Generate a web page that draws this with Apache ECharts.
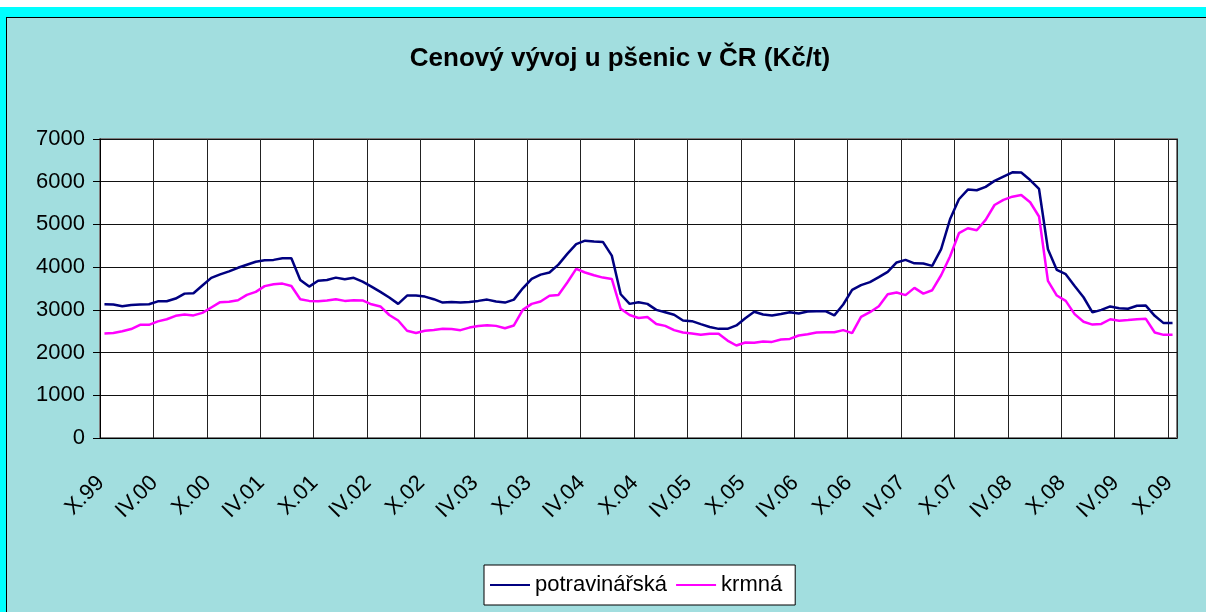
<!DOCTYPE html>
<html>
<head>
<meta charset="utf-8">
<title>Cenový vývoj u pšenic v ČR</title>
<script src="https://cdn.jsdelivr.net/npm/echarts/dist/echarts.min.js"></script>
<style>
  html, body { margin: 0; padding: 0; background: #fff; }
  .frame { position: absolute; left: 0; top: 0; width: 1206px; height: 612px; overflow: hidden; }
  .cyan { position: absolute; left: 0; top: 7px; width: 1206px; height: 605px; background: #00ffff; }
  .area { position: absolute; left: 6px; top: 17px; width: 1200px; height: 600px; background: #a2dedf;
          border-top: 1px solid #000; border-left: 1px solid #000; }
  #chart { position: absolute; left: 0; top: 0; width: 1206px; height: 612px; }
</style>
</head>
<body>
<div class="frame">
  <div class="cyan"></div>
  <div class="area"></div>
  <div id="chart"></div>
</div>
<script>
// měsíce X.99 – X.09
const categories = [
  'X.99', 'XI.99', 'XII.99',
  'I.00', 'II.00', 'III.00', 'IV.00', 'V.00', 'VI.00', 'VII.00', 'VIII.00', 'IX.00', 'X.00', 'XI.00', 'XII.00',
  'I.01', 'II.01', 'III.01', 'IV.01', 'V.01', 'VI.01', 'VII.01', 'VIII.01', 'IX.01', 'X.01', 'XI.01', 'XII.01',
  'I.02', 'II.02', 'III.02', 'IV.02', 'V.02', 'VI.02', 'VII.02', 'VIII.02', 'IX.02', 'X.02', 'XI.02', 'XII.02',
  'I.03', 'II.03', 'III.03', 'IV.03', 'V.03', 'VI.03', 'VII.03', 'VIII.03', 'IX.03', 'X.03', 'XI.03', 'XII.03',
  'I.04', 'II.04', 'III.04', 'IV.04', 'V.04', 'VI.04', 'VII.04', 'VIII.04', 'IX.04', 'X.04', 'XI.04', 'XII.04',
  'I.05', 'II.05', 'III.05', 'IV.05', 'V.05', 'VI.05', 'VII.05', 'VIII.05', 'IX.05', 'X.05', 'XI.05', 'XII.05',
  'I.06', 'II.06', 'III.06', 'IV.06', 'V.06', 'VI.06', 'VII.06', 'VIII.06', 'IX.06', 'X.06', 'XI.06', 'XII.06',
  'I.07', 'II.07', 'III.07', 'IV.07', 'V.07', 'VI.07', 'VII.07', 'VIII.07', 'IX.07', 'X.07', 'XI.07', 'XII.07',
  'I.08', 'II.08', 'III.08', 'IV.08', 'V.08', 'VI.08', 'VII.08', 'VIII.08', 'IX.08', 'X.08', 'XI.08', 'XII.08',
  'I.09', 'II.09', 'III.09', 'IV.09', 'V.09', 'VI.09', 'VII.09', 'VIII.09', 'IX.09', 'X.09'
];

const potravinarska = [
  3130, 3125, 3085, 3115, 3125, 3130, 3200, 3200, 3265, 3380, 3390, 3570, 3750, 3830, 3900, 3985, 4055, 4125, 4160, 4170,
  4210, 4210, 3700, 3545, 3680, 3700, 3755, 3715, 3750, 3660, 3545, 3420, 3290, 3140, 3335, 3335, 3310, 3250, 3170, 3185,
  3170, 3185, 3210, 3240, 3195, 3170, 3240, 3505, 3725, 3825, 3875, 4060, 4310, 4540, 4620, 4600, 4590, 4270, 3365, 3140,
  3180, 3140, 3000, 2945, 2885, 2750, 2735, 2665, 2600, 2555, 2555, 2635, 2805, 2955, 2890, 2870, 2905, 2945, 2915, 2960,
  2970, 2970, 2870, 3125, 3470, 3580, 3650, 3765, 3890, 4110, 4170, 4090, 4085, 4030, 4420, 5120, 5590, 5815, 5800, 5880,
  6020, 6120, 6220, 6215, 6040, 5830, 4420, 3935, 3835, 3560, 3295, 2940, 3000, 3080, 3040, 3025, 3095, 3100, 2860, 2690,
  2695
];

const krmna = [
  2446, 2460, 2500, 2550, 2650, 2650, 2730, 2780, 2860, 2890, 2870, 2930, 3055, 3180, 3190, 3225, 3350, 3420, 3555, 3600,
  3615, 3560, 3250, 3210, 3200, 3220, 3250, 3210, 3225, 3220, 3130, 3080, 2880, 2750, 2510, 2460, 2510, 2530, 2555, 2550,
  2525, 2585, 2620, 2640, 2625, 2570, 2635, 3000, 3140, 3195, 3330, 3350, 3640, 3960, 3875, 3810, 3755, 3725, 3025, 2880,
  2810, 2835, 2670, 2625, 2525, 2470, 2445, 2415, 2440, 2440, 2280, 2165, 2235, 2230, 2260, 2250, 2305, 2320, 2400, 2430,
  2470, 2475, 2475, 2525, 2455, 2835, 2945, 3085, 3365, 3405, 3345, 3515, 3380, 3460, 3810, 4250, 4795, 4910, 4865, 5105,
  5455, 5575, 5650, 5690, 5520, 5185, 3680, 3335, 3210, 2900, 2720, 2655, 2670, 2780, 2745, 2760, 2780, 2790, 2470, 2415,
  2415
];

const yTicks = { min: 0, max: 7000, interval: 1000 };

const font = '"Liberation Sans", Arial, sans-serif';

const chart = echarts.init(document.getElementById('chart'));

const option = {
  animation: false,
  title: {
    text: 'Cenový vývoj u pšenic v ČR (Kč/t)',
    left: 615,
    textAlign: 'center',
    top: 41,
    textStyle: {
      fontFamily: font,
      fontWeight: 'bold',
      fontSize: 26,
      color: '#000',
    },
  },
  grid: {
    left: 100,
    right: 29,
    top: 139,
    bottom: 174,
    show: true,
    backgroundColor: '#fff',
    borderColor: '#808080',
    borderWidth: 2,
  },
  legend: {
    left: 484,
    top: 565,
    padding: [9, 13, 9, 6],
    itemWidth: 40,
    itemHeight: 2,
    itemGap: 9,
    icon: 'rect',
    backgroundColor: '#fff',
    borderColor: '#000',
    borderWidth: 1,
    borderRadius: 0,
    textStyle: {
      fontFamily: font,
      fontSize: 22,
      color: '#000',
    },
    data: ['potravinářská', 'krmná'],
  },
  xAxis: {
    type: 'category',
    data: categories,
    boundaryGap: true,
    axisLine: { lineStyle: { color: '#000', width: 1 } },
    axisTick: { interval: 5, length: 7, lineStyle: { color: '#000' } },
    axisLabel: {
      interval: 5,
      rotate: 45,
      margin: 38,
      padding: [0, 5, 0, 0],
      fontFamily: font,
      fontSize: 22,
      color: '#000',
    },
    splitLine: { show: true, interval: 5, lineStyle: { color: '#222', width: 1 } },
  },
  yAxis: {
    type: 'value',
    min: yTicks.min,
    max: yTicks.max,
    interval: yTicks.interval,
    axisLine: { show: true, lineStyle: { color: '#000', width: 1 } },
    axisTick: { show: true, length: 7, lineStyle: { color: '#000' } },
    axisLabel: {
      margin: 15,
      formatter: (v) => String(v),
      fontFamily: font,
      fontSize: 22,
      color: '#000',
    },
    splitLine: { show: true, lineStyle: { color: '#111', width: 1 } },
  },
  series: [
    {
      name: 'potravinářská',
      type: 'line',
      data: potravinarska,
      symbol: 'none',
      lineStyle: { color: '#000080', width: 2.5 },
      itemStyle: { color: '#000080' },
    },
    {
      name: 'krmná',
      type: 'line',
      data: krmna,
      symbol: 'none',
      lineStyle: { color: '#ff00ff', width: 2.5 },
      itemStyle: { color: '#ff00ff' },
    },
  ],
};

chart.setOption(option);
</script>
</body>
</html>
